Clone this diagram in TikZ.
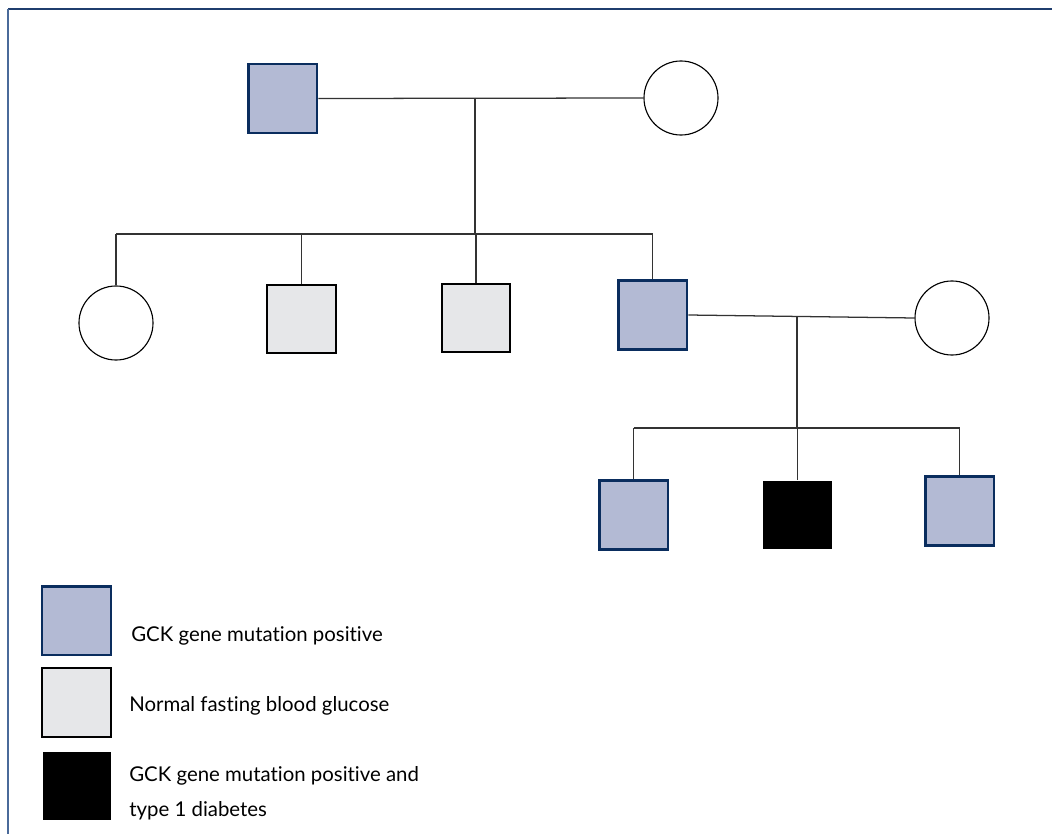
\documentclass[tikz,border=0pt]{standalone}
\usepackage{fontspec}
\setmainfont{Lato}[Ligatures={NoCommon}]
\usetikzlibrary{positioning}
\definecolor{gckblue}{HTML}{B3BAD4}
\definecolor{navy}{HTML}{0A2D5E}
\definecolor{normgray}{HTML}{E6E7E9}
\definecolor{framenavy}{HTML}{1F3D6E}
\definecolor{frameside}{HTML}{4A6A9A}

\tikzset{
  male/.style={rectangle,minimum size=1.72cm,inner sep=0pt},
  female/.style={circle,draw=black,line width=0.8pt,minimum size=1.85cm,inner sep=0pt},
  gck/.style={male,fill=gckblue,draw=navy,line width=2pt},
  normal/.style={male,fill=normgray,draw=black,line width=1.4pt},
  diab/.style={male,fill=black},
  link/.style={line width=0.9pt,black!80},
  legtext/.style={anchor=west,font=\fontsize{14.5}{17}\selectfont,inner sep=0pt}
}

\begin{document}
\begin{tikzpicture}[x=0.025cm,y=-0.025cm]
\useasboundingbox (0,0) rectangle (1052,834);

% --- frame ---
\draw[framenavy,line width=1.2pt] (8,9) -- (1052,9);
\draw[frameside,line width=1.2pt] (8,9) -- (8,834);

% --- first generation ---
\node[gck] (gf) at (282.5,98.5) {};
\node[female] (gm) at (681,98) {};
\draw[link] (gf.east) -- (gm.west);
\coordinate (m1) at (475,98);
\coordinate (s1) at (475,234);
\draw[link] (m1) -- (s1);

% --- second generation ---
\foreach \n/\x/\y/\st in {c1/116/323/female, c2/301.5/319/normal,
                          c3/476/318/normal, c4/652.5/315/gck}
  \node[\st] (\n) at (\x,\y) {};
\draw[link] (c1 |- s1) -- (c4 |- s1);
\foreach \n in {c1,c2,c3,c4}
  \draw[link] (\n |- s1) -- (\n.north);

\node[female] (sp) at (952,318) {};
\draw[link] (c4.east) -- (sp.west);
\coordinate (m2) at (797,317);
\coordinate (s2) at (797,428);
\draw[link] (m2) -- (s2);

% --- third generation ---
\foreach \n/\x/\y/\st in {g1/633.5/515/gck, g2/797.5/515/diab, g3/959.5/511/gck}
  \node[\st] (\n) at (\x,\y) {};
\draw[link] (g1 |- s2) -- (g3 |- s2);
\foreach \n in {g1,g2,g3}
  \draw[link] (\n |- s2) -- (\n.north);

% --- legend ---
\node[gck] (lg1) at (76.5,620.5) {};
\node[normal] (lg2) at (76.5,702.5) {};
\node[diab] (lg3) at (77,786) {};
\node[legtext] (t1) at (131,636) {GCK gene mutation positive};
\node[legtext] (t2) at (129,706) {Normal fasting blood glucose};
\node[legtext,align=left] (t3) at (129,793)
  {GCK gene mutation positive and\\[0.28cm]type 1 diabetes};

\end{tikzpicture}
\end{document}
